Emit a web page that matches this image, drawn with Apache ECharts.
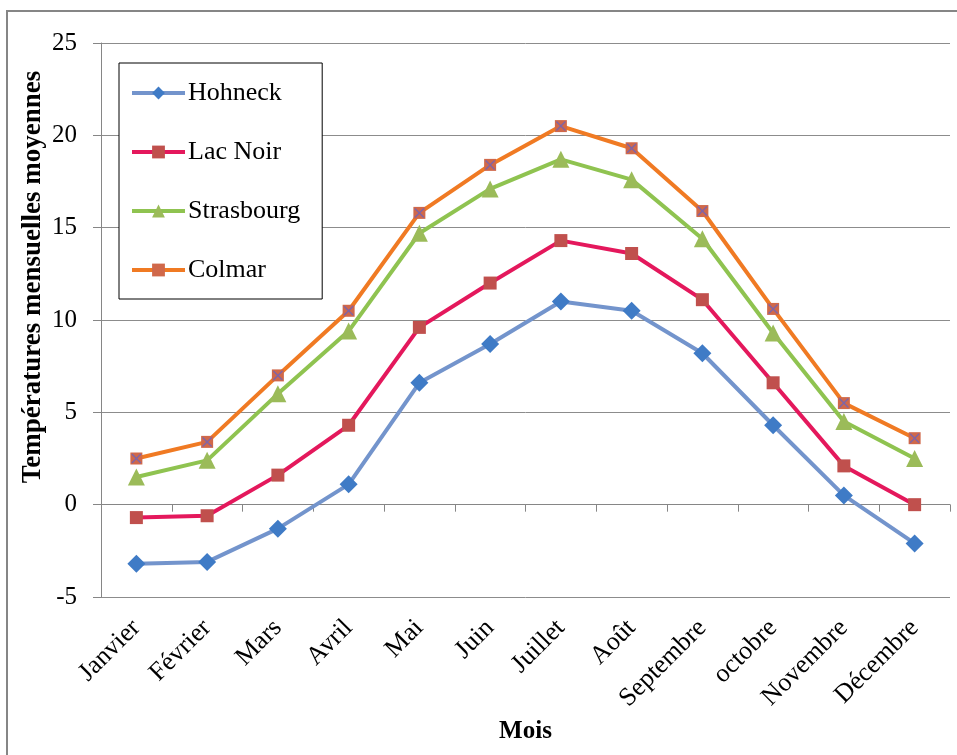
<!DOCTYPE html>
<html>
<head>
<meta charset="utf-8">
<script src="https://cdn.jsdelivr.net/npm/echarts@6/dist/echarts.min.js"></script>
<style>
  html, body { margin: 0; padding: 0; background: #fff; }
  #chartLineBox { width: 957px; height: 755px; }
</style>
</head>
<body>
<div id="chartLineBox"></div>
<script>
// données
const mois = ['Janvier', 'Février', 'Mars', 'Avril', 'Mai', 'Juin', 'Juillet', 'Août', 'Septembre', 'octobre', 'Novembre', 'Décembre'];
const hohneck = [-3.2, -3.1, -1.3, 1.1, 6.6, 8.7, 11.0, 10.5, 8.2, 4.3, 0.5, -2.1];
const lacNoir = [-0.7, -0.6, 1.6, 4.3, 9.6, 12.0, 14.3, 13.6, 11.1, 6.6, 2.1, 0.0];
const strasbourg = [1.5, 2.4, 6.0, 9.4, 14.7, 17.1, 18.7, 17.6, 14.4, 9.3, 4.5, 2.5];
const colmar = [2.5, 3.4, 7.0, 10.5, 15.8, 18.4, 20.5, 19.3, 15.9, 10.6, 5.5, 3.6];
const yTicks = { min: -5, max: 25, interval: 5 };

const serif = "'Liberation Serif', 'DejaVu Serif', serif";
const crossPath = 'path://M0,1 L1,0 L5,4 L9,0 L10,1 L6,5 L10,9 L9,10 L5,6 L1,10 L0,9 L4,5 Z';

const chart = echarts.init(document.getElementById('chartLineBox'));

function serie(name, data, lineColor, symbol, symbolColor, size) {
  return {
    name: name,
    type: 'line',
    data: data,
    symbol: symbol,
    symbolSize: size,
    lineStyle: { color: lineColor, width: 4 },
    itemStyle: { color: symbolColor },
    z: 3
  };
}

const option = {
  backgroundColor: '#fff',
  animation: false,
  graphic: [
    {
      type: 'rect',
      shape: { x: 7, y: 11, width: 970, height: 770 },
      style: { fill: 'none', stroke: '#868686', lineWidth: 2 },
      z: 0
    },
    {
      type: 'text',
      x: 33,
      y: 277,
      rotation: Math.PI / 2,
      style: {
        text: 'Températures mensuelles moyennes',
        font: 'bold 27px ' + serif,
        fill: '#000',
        align: 'center',
        verticalAlign: 'middle'
      }
    }
  ],
  grid: { left: 101, right: 7, top: 43, bottom: 158 },
  legend: {
    orient: 'vertical',
    left: 119,
    top: 63,
    padding: [15, 22, 14, 11],
    itemGap: 29,
    itemWidth: 53,
    itemHeight: 16,
    borderColor: '#000',
    borderWidth: 1,
    backgroundColor: '#fff',
    lineStyle: { width: 4 },
    textStyle: { fontFamily: serif, fontSize: 26, color: '#000', lineHeight: 30, padding: [0, 0, 0, -2] },
    data: ['Hohneck', 'Lac Noir', 'Strasbourg', 'Colmar']
  },
  xAxis: {
    type: 'category',
    data: mois,
    boundaryGap: true,
    name: 'Mois',
    nameLocation: 'middle',
    nameGap: 113,
    nameTextStyle: { fontFamily: serif, fontSize: 25, fontWeight: 'bold', color: '#000' },
    axisLine: { lineStyle: { color: '#868686', width: 1 } },
    axisTick: { show: true, length: 7, lineStyle: { color: '#868686' } },
    axisLabel: { rotate: 45, margin: 27, fontFamily: serif, fontSize: 26, color: '#000' },
    splitLine: { show: false }
  },
  yAxis: {
    type: 'value',
    min: yTicks.min,
    max: yTicks.max,
    interval: yTicks.interval,
    axisLine: { show: true, lineStyle: { color: '#868686', width: 1 } },
    axisTick: { show: true, length: 8, lineStyle: { color: '#868686' } },
    axisLabel: { margin: 24, fontFamily: serif, fontSize: 25, color: '#000' },
    splitLine: { lineStyle: { color: '#8c8c8c', width: 1 } }
  },
  series: [
    serie('Hohneck', hohneck, '#7394cc', 'diamond', '#3f7bc6', 18),
    serie('Lac Noir', lacNoir, '#e4185c', 'rect', '#c0504d', 13),
    serie('Strasbourg', strasbourg, '#8fc350', 'triangle', '#9bbb59', 17),
    serie('Colmar', colmar, '#f07a23', 'rect', '#d0684a', 12),
    {
      // croix des marqueurs Colmar
      name: 'Colmar-croix',
      type: 'line',
      data: colmar,
      symbol: crossPath,
      symbolSize: 10,
      lineStyle: { width: 0 },
      itemStyle: { color: '#7e64a8' },
      z: 4
    }
  ]
};

chart.setOption(option);
</script>
</body>
</html>
